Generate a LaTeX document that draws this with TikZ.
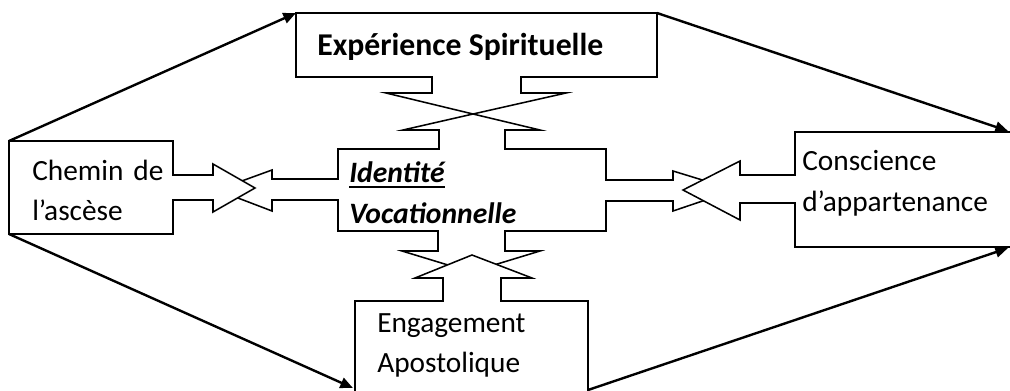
\documentclass[tikz,border=0pt]{standalone}
\usepackage{fontspec}
\setmainfont{Carlito}
\usetikzlibrary{arrows.meta,calc}
\begin{document}
\begin{tikzpicture}[x=0.75pt,y=-0.75pt,
  shapeline/.style={draw=black, fill=white, line width=1.15pt, line join=miter},
  link/.style={draw=black, line width=1.8pt, -{Triangle[length=9.5pt,width=8pt]}},
  lbl/.style={anchor=base west, inner sep=0pt, font=\fontsize{22}{26}\selectfont},
  bigl/.style={anchor=base west, inner sep=0pt, font=\bfseries\fontsize{23.8}{28}\selectfont},
  midl/.style={anchor=base west, inner sep=0pt, font=\bfseries\itshape\fontsize{22.2}{26}\selectfont}
]
\useasboundingbox (0,0) rectangle (1010,390);
\fill[white] (0,0) rectangle (1010,390);

% central box with four callouts
\path[shapeline] (338,149) -- (439,149) -- (439,130) -- (403,130) -- (473,114) -- (540,130)
  -- (505,130) -- (505,149) -- (606,149) -- (606,180) -- (673,180) -- (673,171) -- (735,190)
  -- (673,211) -- (673,201) -- (606,201) -- (606,231) -- (505,231) -- (505,251) -- (540,251)
  -- (471,272) -- (402,251) -- (438,251) -- (438,231) -- (338,231) -- (338,200) -- (272,200)
  -- (272,211) -- (217,190) -- (272,170) -- (272,179) -- (338,179) -- cycle;

% top box
\path[shapeline] (296,13) -- (657,13) -- (657,77) -- (521,77) -- (521,93) -- (566,93)
  -- (473,114) -- (386,93) -- (432,93) -- (432,77) -- (296,77) -- cycle;

% left box
\path[shapeline] (173,141) -- (9,141) -- (9,234) -- (173,234) -- (173,200) -- (213,200)
  -- (213,212) -- (255,188) -- (213,164) -- (213,175) -- (173,175) -- cycle;

% right box
\path[shapeline] (1025,132) -- (795,132) -- (795,175) -- (740,175) -- (740,161) -- (683,190)
  -- (740,220) -- (740,203) -- (795,203) -- (795,247) -- (1025,247) -- cycle;

% bottom box
\path[shapeline] (355,400) -- (355,301) -- (443,301) -- (443,278) -- (415,278) -- (472,255)
  -- (532,278) -- (501,278) -- (501,301) -- (588,301) -- (588,400) -- cycle;

% corners
\coordinate (leftNW) at (9,141);
\coordinate (leftSW) at (9,234);
\coordinate (topNW) at (296,13);
\coordinate (topNE) at (657,13);
\coordinate (rightNE) at (1008,131);
\coordinate (rightSE) at (1008,248);
\coordinate (botSW) at (353,388);
\coordinate (botSE) at (588,390);

\draw[link] (leftNW) -- (topNW);
\draw[link] (topNE) -- (rightNE);
\draw[link] (leftSW) -- (botSW);
\draw[link] (botSE) -- (rightSE);

% texts
\node[bigl] (exp) at (317,55) {Expérience Spirituelle};
\node[lbl] (ch1) at (32,180) {Chemin\hspace{0.34em}de};
\node[lbl] (ch2) at (32,220) {l’ascèse};
\node[midl] (id) at (349,182) {Identité};
\node[midl] (voc) at (349,223) {Vocationnelle};
\draw[line width=1.4pt] ($(id.base west)+(0,5)$) -- ($(id.base east)+(0,5)$);
\node[lbl] (co1) at (802,170) {Conscience};
\node[lbl] (co2) at (802,211) {d’appartenance};
\node[lbl] (en1) at (377,332) {Engagement};
\node[lbl] (en2) at (377,372) {Apostolique};
\end{tikzpicture}
\end{document}
